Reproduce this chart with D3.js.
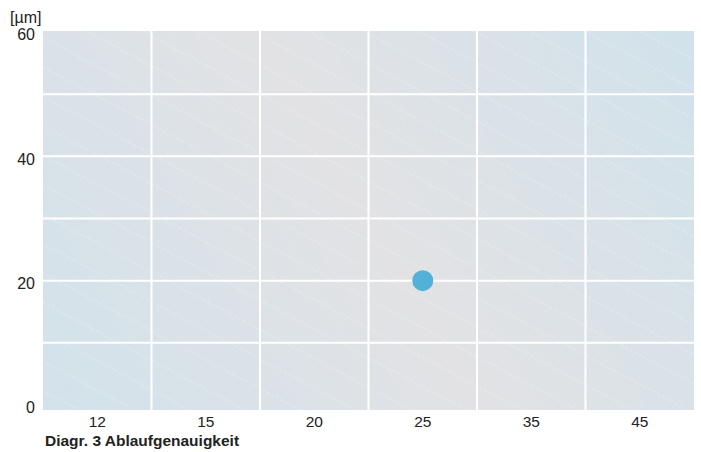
<!DOCTYPE html>
<html>
<head>
<meta charset="utf-8">
<script src="https://cdn.jsdelivr.net/npm/d3@7/dist/d3.min.js"></script>
<style>
  html, body { margin: 0; padding: 0; background: #ffffff; }
  svg { display: block; font-family: "Liberation Sans", Arial, Helvetica, sans-serif; }
</style>
</head>
<body>
<svg id="chart" width="701" height="452"></svg>
<script>
// Roller diameter categories along the x axis
const categories = ["12", "15", "20", "25", "35", "45"];
// Measured running accuracy points
const pointCategories = ["25"];
const pointValues = [20];
// Axis ticks
const yLabelTicks = [0, 20, 40, 60];
const yGridTicks = [10, 20, 30, 40, 50];
const yUnit = "[µm]";
const caption = "Diagr. 3 Ablaufgenauigkeit";

const svg = d3.select("#chart");
const plot = { left: 43, right: 694, top: 31, bottom: 410 };

const x = d3.scaleBand().domain(categories).range([plot.left, plot.right]).padding(0);
const y = d3.scaleLinear().domain([0, 60]).range([405, 32]);

const defs = svg.append("defs");
const grad = defs.append("linearGradient")
  .attr("id", "bg").attr("gradientUnits", "userSpaceOnUse")
  .attr("x1", plot.left).attr("y1", plot.bottom)
  .attr("x2", plot.right).attr("y2", plot.top);
grad.append("stop").attr("offset", "0%").attr("stop-color", "#d2e2eb");
grad.append("stop").attr("offset", "50%").attr("stop-color", "#e2e2e4");
grad.append("stop").attr("offset", "100%").attr("stop-color", "#d1e2eb");

const hatch = defs.append("pattern")
  .attr("id", "hatch").attr("patternUnits", "userSpaceOnUse")
  .attr("width", 40).attr("height", 26)
  .attr("patternTransform", "rotate(28)");
hatch.append("line")
  .attr("x1", 0).attr("y1", 13).attr("x2", 40).attr("y2", 13)
  .attr("stroke", "#ffffff").attr("stroke-opacity", 0.35)
  .attr("stroke-width", 0.8).attr("stroke-dasharray", "3 2");

svg.append("rect")
  .attr("x", plot.left).attr("y", plot.top)
  .attr("width", plot.right - plot.left).attr("height", plot.bottom - plot.top)
  .attr("fill", "url(#bg)");
svg.append("rect")
  .attr("x", plot.left).attr("y", plot.top)
  .attr("width", plot.right - plot.left).attr("height", plot.bottom - plot.top)
  .attr("fill", "url(#hatch)");

// Grid lines
const grid = svg.append("g").attr("stroke", "#ffffff").attr("stroke-width", 2);
grid.selectAll("line.h").data(yGridTicks).join("line")
  .attr("class", "h")
  .attr("x1", plot.left).attr("x2", plot.right)
  .attr("y1", d => y(d)).attr("y2", d => y(d));
grid.selectAll("line.v").data(categories.slice(1)).join("line")
  .attr("class", "v")
  .attr("x1", d => x(d)).attr("x2", d => x(d))
  .attr("y1", plot.top).attr("y2", plot.bottom);

// Y axis labels
const yAxis = d3.axisLeft(y).tickValues(yLabelTicks).tickSize(0).tickPadding(8).tickFormat(d3.format("d"));
const gy = svg.append("g").attr("transform", `translate(${plot.left},0)`).call(yAxis);
gy.select(".domain").remove();
gy.selectAll("text")
  .attr("font-size", 16).attr("fill", "#222").attr("dy", "0.48em")
  .attr("font-family", "Liberation Sans, Arial, sans-serif");

svg.append("text")
  .attr("x", 10).attr("y", 23)
  .attr("font-size", 16).attr("fill", "#222")
  .text(yUnit);

// X axis labels
const xAxis = d3.axisBottom(x).tickSize(0).tickPadding(6);
const gx = svg.append("g").attr("transform", `translate(0,${plot.bottom})`).call(xAxis);
gx.select(".domain").remove();
gx.selectAll("text")
  .attr("font-size", 15.5).attr("fill", "#222")
  .attr("font-family", "Liberation Sans, Arial, sans-serif");

// Data points
svg.append("g").selectAll("circle")
  .data(pointCategories.map((c, i) => ({ c, v: pointValues[i] })))
  .join("circle")
  .attr("cx", d => x(d.c) + x.bandwidth() / 2)
  .attr("cy", d => y(d.v))
  .attr("r", 10.5)
  .attr("fill", "#52b1d6");

svg.append("text")
  .attr("x", 45).attr("y", 446)
  .attr("font-size", 15.5).attr("font-weight", "bold").attr("fill", "#222")
  .text(caption);
</script>
</body>
</html>
